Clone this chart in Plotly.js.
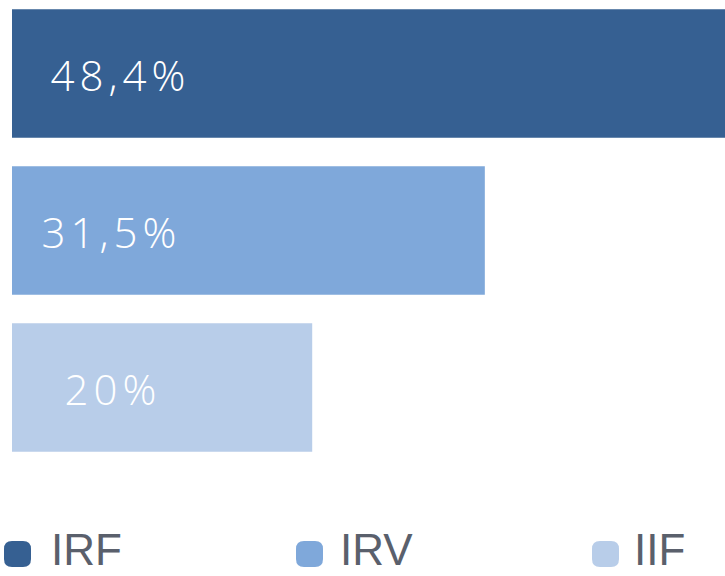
<!DOCTYPE html>
<html>
<head>
<meta charset="utf-8">
<script src="https://cdn.plot.ly/plotly-3.0.1.min.js"></script>
<style>html,body{margin:0;padding:0;background:#fff;}#chart{width:725px;height:576px;}</style>
</head>
<body>
<div id="chart"></div>
<script>
const categories = ["IRF", "IRV", "IIF"];
const values = [48.4, 31.5, 20];
const valueLabels = ["48,4%", "31,5%", "20%"];
const colors = ["#366092", "#7fa8da", "#b8cde9"];

const W = 725, H = 576;
const ml = 12, mr = 0, mt = 0, mb = 76;
const plotW = W - ml - mr, plotH = H - mt - mb;

// label horizontal centres (px)
const labelCenters = [120, 111, 113];
// legend layout (px)
const legendMarkerX = [4, 296, 592];
const legendTextX = [49, 338, 632];
const legendY = 554;

const trace = {
  type: "bar",
  orientation: "h",
  y: categories,
  x: values,
  marker: { color: colors },
  width: 0.82,
  hoverinfo: "none",
  showlegend: false
};

const annotations = [];
const shapes = [];
categories.forEach((c, i) => {
  annotations.push({
    x: 0, y: c, xref: "x", yref: "y",
    text: valueLabels[i], showarrow: false,
    xanchor: "center", yanchor: "middle",
    xshift: labelCenters[i] - ml, yshift: -1,
    font: { family: "Open Sans, Liberation Sans, sans-serif", size: 42, weight: 300, color: "#ffffff" }
  });
  const px = (legendTextX[i] - ml) / plotW;
  annotations.push({
    x: px, y: -mb / plotH, xref: "paper", yref: "paper",
    text: c, showarrow: false, xanchor: "left", yanchor: "bottom",
    yshift: 0,
    font: { family: "Liberation Sans, Arial, sans-serif", size: 44, color: "#5a606c" }
  });
  const mx = (legendMarkerX[i] - ml) / plotW;
  const my = 1 - (legendY - mt) / plotH;
  const w = 27, h = 26, r = 8;
  shapes.push({
    type: "path", xref: "paper", yref: "paper",
    xsizemode: "pixel", ysizemode: "pixel", xanchor: mx, yanchor: my,
    path: `M ${r} ${-h/2} L ${w-r} ${-h/2} Q ${w} ${-h/2} ${w} ${-h/2+r} L ${w} ${h/2-r} Q ${w} ${h/2} ${w-r} ${h/2} L ${r} ${h/2} Q 0 ${h/2} 0 ${h/2-r} L 0 ${-h/2+r} Q 0 ${-h/2} ${r} ${-h/2} Z`,
    fillcolor: colors[i], line: { width: 0 }
  });
});

const pxPerCat = 157;
const firstCenter = 73.5;
const yTop = -(firstCenter - mt) / pxPerCat;
const yBot = yTop + plotH / pxPerCat;

const layout = {
  width: W, height: H,
  margin: { l: ml, r: mr, t: mt, b: mb, pad: 0 },
  paper_bgcolor: "#ffffff", plot_bgcolor: "#ffffff",
  xaxis: { range: [0, 47.5], visible: false, fixedrange: true },
  yaxis: { range: [yBot, yTop], visible: false, fixedrange: true },
  annotations: annotations,
  shapes: shapes,
  showlegend: false
};

Plotly.newPlot("chart", [trace], layout, { displayModeBar: false, staticPlot: true }).then(() => {
  document.querySelectorAll("#chart .annotation-text").forEach(t => {
    if (valueLabels.includes(t.textContent)) t.style.letterSpacing = "5px";
  });
});
</script>
</body>
</html>
